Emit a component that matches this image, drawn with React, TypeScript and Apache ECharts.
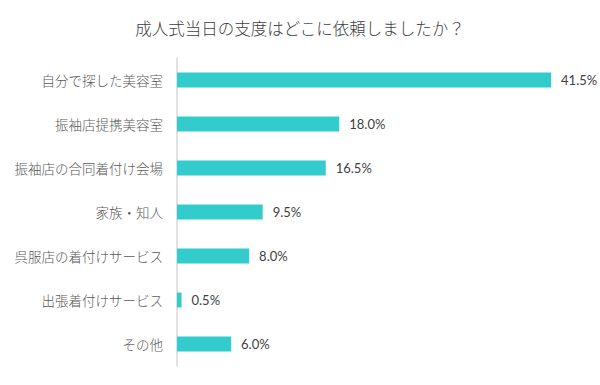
import React, { useEffect, useRef } from "react";
import * as echarts from "echarts";

const title = "成人式当日の支度はどこに依頼しましたか？";
const categories = [
  "自分で探した美容室",
  "振袖店提携美容室",
  "振袖店の合同着付け会場",
  "家族・知人",
  "呉服店の着付けサービス",
  "出張着付けサービス",
  "その他",
];
const values = [41.5, 18.0, 16.5, 9.5, 8.0, 0.5, 6.0];

export default function App() {
  const ref = useRef<HTMLDivElement>(null);
  useEffect(() => {
    if (!ref.current) return;
    const chart = echarts.init(ref.current, undefined, { renderer: "svg" });
    chart.setOption({
      animation: false,
      backgroundColor: "#ffffff",
      title: {
        text: title,
        left: "center",
        top: 15,
        textStyle: {
          fontFamily: "Noto Sans CJK JP",
          fontSize: 16.5,
          fontWeight: 300,
          color: "#404040",
        },
      },
      grid: { left: 177, top: 58, height: 308, width: 405.6 },
      xAxis: {
        type: "value",
        min: 0,
        max: 45,
        show: false,
      },
      yAxis: {
        type: "category",
        inverse: true,
        data: categories,
        axisLine: { show: true, lineStyle: { color: "#d9d9d9", width: 1.5 } },
        axisTick: { show: false },
        axisLabel: {
          margin: 14,
          fontFamily: "Noto Sans CJK JP",
          fontSize: 13.5,
          fontWeight: 300,
          color: "#595959",
        },
      },
      series: [
        {
          type: "bar",
          data: values,
          barWidth: 15,
          itemStyle: { color: "#33cccc" },
          label: {
            show: true,
            position: "right",
            distance: 10,
            formatter: (p: any) => p.value.toFixed(1) + "%",
            fontFamily: "Lato",
            fontSize: 13,
            fontWeight: 400,
            color: "#404040",
          },
        },
      ],
    });
    return () => chart.dispose();
  }, []);
  return <div ref={ref} style={{ width: 600, height: 385, position: "absolute", left: 0, top: 0 }} />;
}
